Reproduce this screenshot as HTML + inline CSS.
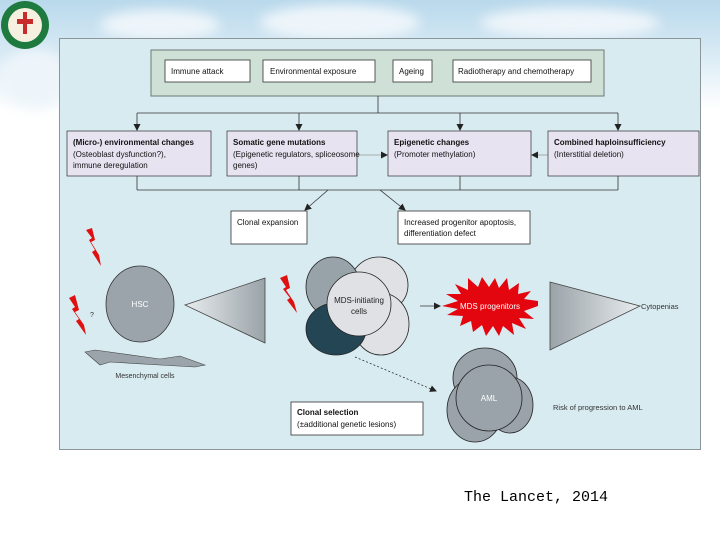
<!DOCTYPE html>
<html><head><meta charset="utf-8"><style>
html,body{margin:0;padding:0;}
body{width:720px;height:540px;overflow:hidden;position:relative;background:#fff;font-family:"Liberation Sans",sans-serif;}
.sky{position:absolute;left:0;top:0;width:720px;height:110px;background:linear-gradient(180deg,#b9d9ec 0%,#d6e9f4 45%,#ffffff 100%);}
.c{position:absolute;border-radius:50%;background:#eef5fa;filter:blur(6px);}
svg{position:absolute;left:0;top:0;}
</style></head><body>
<div class="sky"></div>
<div class="c" style="left:100px;top:10px;width:120px;height:30px"></div>
<div class="c" style="left:260px;top:5px;width:160px;height:35px"></div>
<div class="c" style="left:480px;top:8px;width:180px;height:30px"></div>
<div class="c" style="left:0px;top:50px;width:70px;height:60px"></div>
<svg width="720" height="540" viewBox="0 0 720 540" font-family="Liberation Sans, sans-serif">
<defs>
<marker id="a" markerUnits="userSpaceOnUse" markerWidth="7" markerHeight="7" refX="6" refY="3.5" orient="auto"><path d="M0,0L7,3.5L0,7z" fill="#222"/></marker>
<linearGradient id="tg" x1="0" x2="1"><stop offset="0" stop-color="#e8ecef"/><stop offset="1" stop-color="#9aa3a8"/></linearGradient>
<linearGradient id="tg2" x1="1" x2="0"><stop offset="0" stop-color="#e8ecef"/><stop offset="1" stop-color="#9aa3a8"/></linearGradient>
</defs>
<circle cx="25" cy="25" r="24" fill="#1e7a3e"/><circle cx="25" cy="25" r="17" fill="#f5f0e0"/>
<rect x="17" y="19" width="16" height="5" fill="#c92a2a"/><rect x="23" y="12" width="4" height="22" fill="#c92a2a"/>
<rect x="59.5" y="38.5" width="641" height="411" fill="#d8ebf1" stroke="#8c9599"/>
<rect x="151" y="50" width="453" height="46" fill="#cfe0d6" stroke="#6d7a74"/>
<g fill="#fff" stroke="#333" stroke-width="0.8">
<rect x="165" y="60" width="85" height="22"/><rect x="263" y="60" width="112" height="22"/>
<rect x="393" y="60" width="39" height="22"/><rect x="453" y="60" width="138" height="22"/>
</g>
<g font-size="8" fill="#111">
<text x="171" y="74">Immune attack</text><text x="270" y="74">Environmental exposure</text>
<text x="399" y="74">Ageing</text><text x="458" y="74">Radiotherapy and chemotherapy</text>
</g>
<g stroke="#333" fill="none" stroke-width="0.8">
<path d="M378,96V113M137,113H618"/>
<path d="M137,113V130" marker-end="url(#a)"/>
<path d="M299,113V130" marker-end="url(#a)"/>
<path d="M460,113V130" marker-end="url(#a)"/>
<path d="M618,113V130" marker-end="url(#a)"/>
<path d="M137,176V190M299,176V190M460,176V190M618,176V190M137,190H618"/>
<path d="M328,190L305,210" marker-end="url(#a)"/>
<path d="M380,190L405,210" marker-end="url(#a)"/>
<path d="M420,306H440" marker-end="url(#a)"/>
<path d="M355,357L436,391" stroke-dasharray="2,2" marker-end="url(#a)"/>
</g>
<g stroke="#999" fill="none" stroke-width="0.8">
<path d="M357,155H387" marker-end="url(#a)"/>
<path d="M548,155H532" marker-end="url(#a)"/>
</g>
<g fill="#e8e3f1" stroke="#444" stroke-width="0.8">
<rect x="67" y="131" width="144" height="45"/><rect x="227" y="131" width="130" height="45"/>
<rect x="388" y="131" width="143" height="45"/><rect x="548" y="131" width="151" height="45"/>
</g>
<g font-size="8" fill="#111">
<text x="73" y="145" font-weight="bold">(Micro-) environmental changes</text>
<text x="73" y="157">(Osteoblast dysfunction?),</text><text x="73" y="168">immune deregulation</text>
<text x="233" y="145" font-weight="bold">Somatic gene mutations</text>
<text x="233" y="157">(Epigenetic regulators, spliceosome</text><text x="233" y="168">genes)</text>
<text x="394" y="145" font-weight="bold">Epigenetic changes</text><text x="394" y="157">(Promoter methylation)</text>
<text x="554" y="145" font-weight="bold">Combined haploinsufficiency</text><text x="554" y="157">(Interstitial deletion)</text>
</g>
<g fill="#fff" stroke="#333" stroke-width="0.8">
<rect x="231" y="211" width="76" height="33"/><rect x="398" y="211" width="132" height="33"/>
<rect x="291" y="402" width="132" height="33"/>
</g>
<g font-size="8" fill="#111">
<text x="237" y="225">Clonal expansion</text>
<text x="404" y="225">Increased progenitor apoptosis,</text><text x="404" y="236">differentiation defect</text>
<text x="297" y="415" font-weight="bold">Clonal selection</text><text x="297" y="427">(±additional genetic lesions)</text>
</g>
<g fill="#e01010">
<path d="M86,230L92,228L95,240L91,242L99,255L101,266L92,252L95,250L89,240L92,238z"/>
<path d="M69,298L75,295L79,310L75,312L84,325L86,335L76,321L79,319L72,309L75,307z"/>
<path d="M280,278L287,275L290,288L286,290L294,302L297,313L287,300L290,298L283,289L286,287z"/>
</g>
<text x="90" y="317" font-size="7" fill="#333">?</text>
<ellipse cx="140" cy="304" rx="34" ry="38" fill="#9ba4aa" stroke="#333" stroke-width="0.8"/>
<text x="140" y="307" font-size="8" fill="#fff" text-anchor="middle">HSC</text>
<path d="M185,305L265,278V343z" fill="url(#tg)" stroke="#444" stroke-width="0.8"/>
<path d="M85,352L95,350L160,359L180,356L205,365L195,367L160,365L110,362L100,365z" fill="#9ba4aa" stroke="#444" stroke-width="0.6"/>
<text x="145" y="378" font-size="7" fill="#333" text-anchor="middle">Mesenchymal cells</text>
<g stroke="#222" stroke-width="0.8">
<ellipse cx="379" cy="285" rx="29" ry="28" fill="#dfe1e4"/>
<ellipse cx="381" cy="324" rx="28" ry="31" fill="#dfe1e4"/>
<ellipse cx="333" cy="287" rx="27" ry="30" fill="#98a3a9"/>
<ellipse cx="336" cy="329" rx="30" ry="26" fill="#244553"/>
<ellipse cx="359" cy="304" rx="32" ry="32" fill="#dfe1e4"/>
</g>
<text x="359" y="303" font-size="8" fill="#222" text-anchor="middle">MDS-initiating</text>
<text x="359" y="314" font-size="8" fill="#222" text-anchor="middle">cells</text>
<polygon fill="#e3060e" points="
538,306 524,311 534,319 519,318 526,329 512,323 514,335 503,326 499,336 493,326 486,336 482,325 473,332 471,321 460,326 463,316 447,315 458,309 442,306 458,301 446,294 461,294 455,284 468,290 468,278 478,287 482,277 489,287 495,278 499,288 507,278 509,290 519,283 518,294 531,291 524,299 538,301"/>
<text x="490" y="309" font-size="8" fill="#fff" text-anchor="middle">MDS progenitors</text>
<path d="M640,306L550,282V350z" fill="url(#tg2)" stroke="#444" stroke-width="0.8"/>
<text x="641" y="309" font-size="7.5" fill="#333">Cytopenias</text>
<g stroke="#222" stroke-width="0.8" fill="#99a3a9">
<ellipse cx="485" cy="378" rx="32" ry="30"/>
<ellipse cx="510" cy="405" rx="23" ry="28"/>
<ellipse cx="475" cy="410" rx="28" ry="32"/>
<ellipse cx="489" cy="398" rx="33" ry="33"/>
</g>
<text x="489" y="401" font-size="8" fill="#fff" text-anchor="middle">AML</text>
<text x="553" y="410" font-size="7.5" fill="#333">Risk of progression to AML</text>
<text x="464" y="501" font-size="15" fill="#000" font-family="Liberation Mono, monospace">The Lancet, 2014</text>
</svg>
</body></html>
